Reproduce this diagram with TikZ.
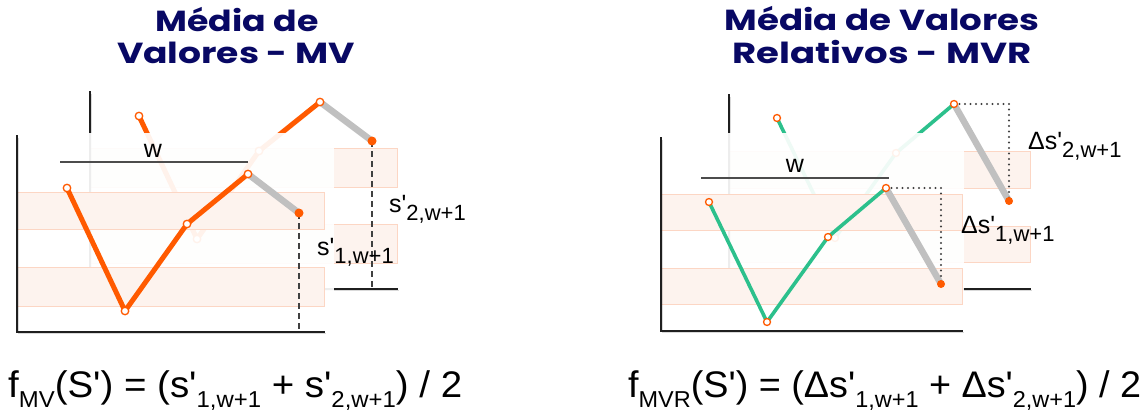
\documentclass[tikz,border=0pt]{standalone}
\usepackage{fontspec}
\usepackage{graphicx}
\setmainfont{Liberation Sans}
\newfontfamily\ttlfont{Poppins}
\usetikzlibrary{calc}
\definecolor{morange}{RGB}{255,90,0}
\definecolor{mgreen}{RGB}{44,192,140}
\definecolor{mgrey}{RGB}{192,192,192}
\definecolor{bfill}{RGB}{253,243,238}
\definecolor{bline}{RGB}{252,214,196}
\definecolor{navy}{RGB}{8,8,100}
\newcommand{\ap}{\textquotesingle}
\newcommand{\lbl}[2]{{\fontsize{25}{25}\selectfont #1\ap}\raisebox{-8pt}{\fontsize{22}{22}\selectfont #2}}
\newcommand{\fsub}[1]{\raisebox{-10pt}{\fontsize{23}{23}\selectfont #1}}
\tikzset{
  shad/.style={preaction={draw=black, draw opacity=0.15, transform canvas={shift={(1.5pt,-1.5pt)}}}},
  axisline/.style={line width=2.4pt, draw=black!88, line cap=rect, shad},
  band/.style={fill=bfill, draw=bline, line width=0.8pt},
  oser/.style={line width=5pt, draw=morange, line cap=round, line join=round},
  gser/.style={line width=3.6pt, draw=mgreen, line cap=round, line join=round},
  gseg/.style={line width=6.5pt, draw=mgrey, line cap=round, shad},
  opt/.style={circle, fill=white, draw=morange, line width=1.3pt, inner sep=0pt, minimum size=7.5pt},
  fpt/.style={circle, fill=morange, inner sep=0pt, minimum size=9pt},
  winline/.style={line width=1.6pt, draw=black!70},
  veil/.style={fill=white, fill opacity=0.92},
  dashline/.style={line width=1.3pt, draw=black!75, dash pattern=on 6pt off 4pt},
  dotline/.style={line width=2.3pt, draw=black!75, line cap=round, dash pattern=on 0pt off 5.5pt},
  ttl/.style={font=\ttlfont\bfseries\fontsize{29}{29}\selectfont, text=navy, inner sep=0pt, anchor=base},
  lab/.style={inner sep=0pt, anchor=base west, text=black},
  wlab/.style={inner sep=0pt, anchor=base, font=\fontsize{25}{25}\selectfont},
  formula/.style={inner sep=0pt, anchor=base west, font=\fontsize{37}{37}\selectfont}
}
\begin{document}
\begin{tikzpicture}[x=1pt,y=-1pt]
\useasboundingbox (0,0) rectangle (1147,412);
\fill[white] (0,0) rectangle (1147,412);

% ---------------- titles
\node[ttl] (t1a) at (237,32) {\resizebox{163pt}{\height}{Média de}};
\node[ttl] (t1b) at (236,63) {\resizebox{238pt}{\height}{Valores - MV}};
\node[ttl] (t2a) at (882,31) {\resizebox{315pt}{\height}{Média de Valores}};
\node[ttl] (t2b) at (882,64) {\resizebox{299pt}{\height}{Relativos - MVR}};

% ================= LEFT PANEL (MV)
% back chart
\draw[band] (90,148) rectangle (397,187);
\draw[band] (90,224) rectangle (397,263);
\draw[axisline] (90,92) -- (90,289) -- (397,289);
\coordinate (b1) at (139,116);
\coordinate (b2) at (197,239);
\coordinate (b3) at (259,151);
\coordinate (b4) at (320,102);
\coordinate (b5) at (372,141);
\coordinate (b5d) at (372,289);
\draw[dashline] (b5) -- (b5d);
\draw[gseg] (b4) -- (b5);
\draw[oser] (b1) -- (b2) -- (b3) -- (b4);
\node[opt] (b1p) at (b1) {};
\node[opt] (b2p) at (b2) {};
\node[opt] (b3p) at (b3) {};
\node[opt] (b4p) at (b4) {};
\node[fpt] (b5p) at (b5) {};
\node[lab] (s2) at (389,212) {\lbl{s}{2,w+1}};
% veil
\fill[veil] (12,133) rectangle (334,345);
% front chart
\draw[band] (17,192) rectangle (324,229);
\draw[band] (17,267) rectangle (324,306);
\draw[axisline] (17,136) -- (17,332) -- (324,332);
\coordinate (w1a) at (60,162);
\coordinate (w1b) at (248,162);
\draw[winline] (w1a) -- (w1b);
\node[wlab] (w1) at (153,157) {w};
\coordinate (a1) at (67,188);
\coordinate (a2) at (125,311);
\coordinate (a3) at (187,224);
\coordinate (a4) at (248,174);
\coordinate (a5) at (299,213);
\coordinate (a5d) at (299,331);
\draw[dashline] (a5) -- (a5d);
\draw[gseg] (a4) -- (a5);
\draw[oser] (a1) -- (a2) -- (a3) -- (a4);
\node[opt] (a1p) at (a1) {};
\node[opt] (a2p) at (a2) {};
\node[opt] (a3p) at (a3) {};
\node[opt] (a4p) at (a4) {};
\node[fpt] (a5p) at (a5) {};
\node[lab] (s1) at (317,255) {\lbl{s}{1,w+1}};

% ================= RIGHT PANEL (MVR)
% back chart
\draw[band] (729,151) rectangle (1030,188);
\draw[band] (729,226) rectangle (1030,262);
\draw[axisline] (729,95) -- (729,289) -- (1030,289);
\coordinate (d1) at (777,118);
\coordinate (d2) at (835,238);
\coordinate (d3) at (896,153);
\coordinate (d4) at (954,104);
\coordinate (d5) at (1009,201);
\draw[gseg] (d4) -- (d5);
\draw[dotline] (d4) -- (d4 -| d5) -- (d5);
\draw[gser] (d1) -- (d2) -- (d3) -- (d4);
\node[opt, minimum size=7pt] (d1p) at (d1) {};
\node[opt, minimum size=7pt] (d2p) at (d2) {};
\node[opt, minimum size=7pt] (d3p) at (d3) {};
\node[opt, minimum size=7pt] (d4p) at (d4) {};
\node[fpt, minimum size=8pt] (d5p) at (d5) {};
\node[lab] (ds2) at (1028,149) {\lbl{Δs}{2,w+1}};
% veil
\fill[veil] (655,133) rectangle (964,345);
% front chart
\draw[band] (661,194) rectangle (962,230);
\draw[band] (661,268) rectangle (962,304);
\draw[axisline] (661,138) -- (661,331) -- (962,331);
\coordinate (w2a) at (701,178);
\coordinate (w2b) at (889,178);
\draw[winline] (w2a) -- (w2b);
\node[wlab] (w2) at (795,172) {w};
\coordinate (c1) at (709,202);
\coordinate (c2) at (767,322);
\coordinate (c3) at (828,237);
\coordinate (c4) at (886,188);
\coordinate (c5) at (941,284);
\draw[gseg] (c4) -- (c5);
\draw[dotline] (c4) -- (c4 -| c5) -- (c5);
\draw[gser] (c1) -- (c2) -- (c3) -- (c4);
\node[opt, minimum size=7pt] (c1p) at (c1) {};
\node[opt, minimum size=7pt] (c2p) at (c2) {};
\node[opt, minimum size=7pt] (c3p) at (c3) {};
\node[opt, minimum size=7pt] (c4p) at (c4) {};
\node[fpt, minimum size=8pt] (c5p) at (c5) {};
\node[lab] (ds1) at (961,233) {\lbl{Δs}{1,w+1}};

% ================= formulas
\node[formula] (f1) at (8,397) {\resizebox{454pt}{\height}{f\fsub{MV}(S\ap) = (s\ap\fsub{1,w+1} + s\ap\fsub{2,w+1}) / 2}};
\node[formula] (f2) at (628,397) {\resizebox{513pt}{\height}{f\fsub{MVR}(S\ap) = (Δs\ap\fsub{1,w+1} + Δs\ap\fsub{2,w+1}) / 2}};
\end{tikzpicture}
\end{document}
